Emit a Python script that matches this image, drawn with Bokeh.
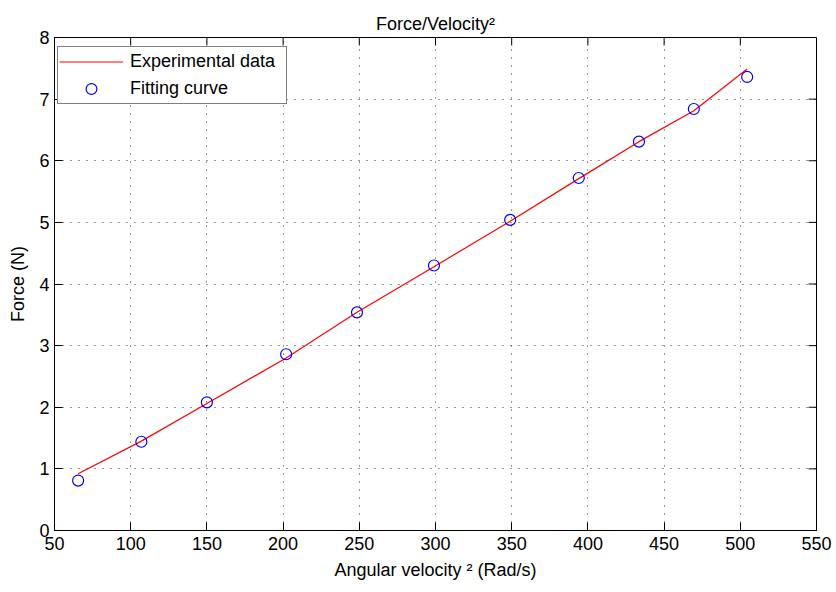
import math
from bokeh.plotting import figure
from bokeh.models import Legend, LegendItem, FixedTicker, Range1d
from bokeh.embed import file_html
from bokeh.resources import INLINE

# Data
angular_velocity_sq = [65.5, 107, 150, 202, 248.5, 299, 349, 394, 433.5, 469.5, 504.5]
experimental_force = [0.92, 1.45, 2.06, 2.80, 3.54, 4.28, 5.02, 5.71, 6.31, 6.81, 7.49]
fitting_force = [0.81, 1.44, 2.08, 2.86, 3.54, 4.30, 5.04, 5.72, 6.31, 6.84, 7.36]
x_ticks = [50, 100, 150, 200, 250, 300, 350, 400, 450, 500, 550]
y_ticks = [0, 1, 2, 3, 4, 5, 6, 7, 8]
X_MIN, X_MAX = 50, 550
Y_MIN, Y_MAX = 0, 8

FONT = "Liberation Sans"
FS = "18px"

p = figure(width=836, height=592, x_range=Range1d(X_MIN, X_MAX), y_range=Range1d(Y_MIN, Y_MAX),
           output_backend="svg", toolbar_location=None,
           min_border_left=54, min_border_right=20, min_border_top=37, min_border_bottom=62,
           title="Force/Velocity²")
p.background_fill_color = "white"
p.border_fill_color = "white"
p.outline_line_color = "black"
p.outline_line_width = 1

p.title.align = "center"
p.title.text_font = FONT
p.title.text_font_size = FS
p.title.text_font_style = "normal"
p.title.text_color = "black"
p.title.standoff = 8

for ax, ticks in ((p.xaxis[0], x_ticks), (p.yaxis[0], y_ticks)):
    ax.ticker = FixedTicker(ticks=ticks)
    ax.major_tick_in = 8
    ax.major_tick_out = 0
    ax.minor_tick_in = 0
    ax.minor_tick_out = 0
    ax.axis_line_color = "black"
    ax.major_tick_line_color = "black"
    ax.major_label_text_font = FONT
    ax.major_label_text_font_size = FS
    ax.major_label_text_color = "black"
    ax.axis_label_text_font = FONT
    ax.axis_label_text_font_size = FS
    ax.axis_label_text_font_style = "normal"
    ax.axis_label_text_color = "black"

p.xaxis.axis_label = "Angular velocity ² (Rad/s)"
p.xaxis.major_label_standoff = 6
p.xaxis.axis_label_standoff = 7
p.yaxis.axis_label = "Force (N)"
p.yaxis.major_label_standoff = 5
p.yaxis.axis_label_standoff = 8

for g, ticks in ((p.xgrid[0], x_ticks), (p.ygrid[0], y_ticks)):
    g.ticker = FixedTicker(ticks=ticks)
    g.grid_line_color = "#333333"
    g.grid_line_dash = "1 7"
    g.grid_line_width = 1

# inward tick marks on the top and right edges of the box (MATLAB style)
p.scatter(x_ticks, [Y_MAX] * len(x_ticks), marker="dash", angle=math.pi / 2, size=16,
          line_color="black", line_width=1)
p.scatter([X_MAX] * len(y_ticks), y_ticks, marker="dash", size=16,
          line_color="black", line_width=1)

r_line = p.line(angular_velocity_sq, experimental_force, line_color="#ff0000", line_width=1.2)
r_circ = p.scatter(angular_velocity_sq, fitting_force, marker="circle", size=11,
                   fill_color=None, line_color="#0000ff", line_width=1.2)

legend = Legend(items=[LegendItem(label="Experimental data", renderers=[r_line]),
                       LegendItem(label="Fitting curve", renderers=[r_circ])],
                location=(3, 426), margin=0, padding=1, spacing=0,
                glyph_width=64, glyph_height=27, label_height=27, label_width=155,
                label_standoff=7,
                label_text_font=FONT, label_text_font_size=FS, label_text_color="black",
                border_line_color="black", border_line_width=1,
                background_fill_color="white", background_fill_alpha=1)
p.add_layout(legend)

open("out.html", "w").write(file_html(p, INLINE))
